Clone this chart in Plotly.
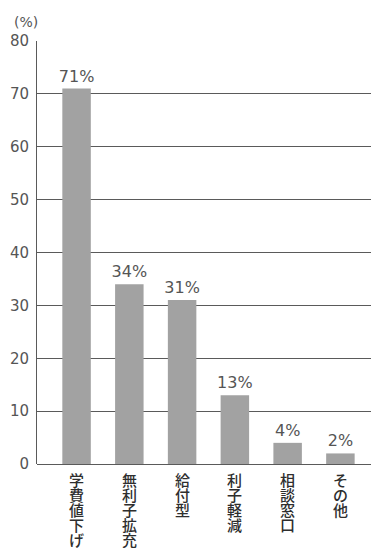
import plotly.graph_objects as go

categories = ["学費値下げ", "無利子拡充", "給付型", "利子軽減", "相談窓口", "その他"]
values = [71, 34, 31, 13, 4, 2]
y_ticks = [0, 10, 20, 30, 40, 50, 60, 70, 80]

CJK = "Noto Sans CJK JP"
NUM = "DejaVu Sans"
TEXT = "#2e2e2e"
NUMC = "#555555"
LINE = "#5a5a5a"

fig = go.Figure(
    go.Bar(
        x=list(range(len(categories))),
        y=values,
        text=[f"{v}%" for v in values],
        textposition="outside",
        constraintext="none",
        textfont=dict(family=NUM, size=16, color=NUMC),
        cliponaxis=False,
        marker=dict(color="#a2a2a2", line=dict(width=0)),
        width=0.54,
    )
)

# vertical (tategaki) category labels: one character per row, stacked
# beneath each bar on the x axis scale
annotations = []
PITCH = 15
for i, name in enumerate(categories):
    for k, ch in enumerate(name):
        annotations.append(
            dict(
                text=ch,
                x=i, xref="x",
                y=0, yref="y",
                xanchor="center", yanchor="top",
                yshift=-(4 + PITCH * k),
                showarrow=False,
                font=dict(family=CJK, size=15, color=TEXT, weight=500),
                borderpad=0,
            )
        )

annotations.append(
    dict(
        text="(%)",
        xref="paper", yref="paper",
        x=-25 / 334, y=1 + 19 / 423,
        xanchor="left", yanchor="middle",
        showarrow=False,
        font=dict(family=NUM, size=14, color=NUMC),
    )
)

fig.update_layout(
    width=371,
    height=549,
    margin=dict(l=37, r=0, t=41, b=85),
    paper_bgcolor="white",
    plot_bgcolor="white",
    showlegend=False,
    font=dict(family=CJK, color=TEXT),
    annotations=annotations,
)

fig.update_xaxes(
    range=[-0.75, 5.58],
    tickmode="array",
    tickvals=list(range(len(categories))),
    ticktext=[""] * len(categories),
    ticks="",
    showgrid=False,
    showline=False,
    zeroline=False,
)

fig.update_yaxes(
    range=[0, 80],
    tickmode="array",
    tickvals=y_ticks,
    ticktext=[str(v) for v in y_ticks],
    tickfont=dict(family=NUM, size=15, color=NUMC),
    ticks="",
    ticklabelstandoff=4,
    showgrid=True,
    gridcolor=LINE,
    gridwidth=1,
    showline=True,
    linecolor=LINE,
    linewidth=1,
    zeroline=True,
    zerolinecolor=LINE,
    zerolinewidth=1,
)

fig.write_html("out.html")
